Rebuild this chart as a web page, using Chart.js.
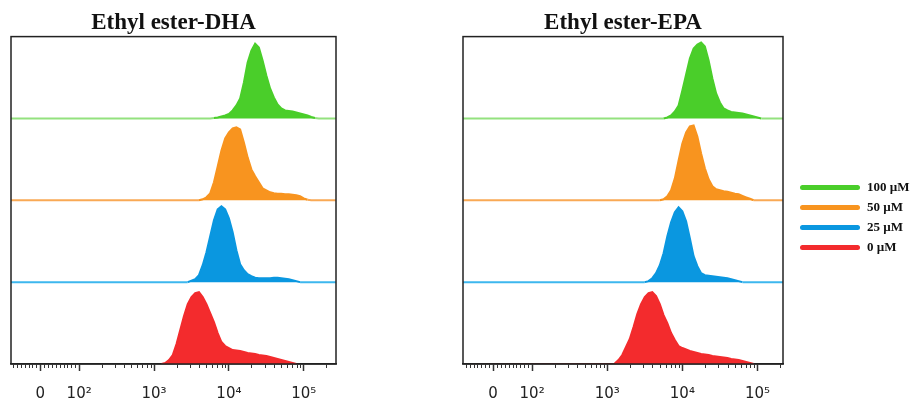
<!DOCTYPE html>
<html>
<head>
<meta charset="utf-8">
<script src="https://cdn.jsdelivr.net/npm/chart.js@4.4.1/dist/chart.umd.min.js"></script>
<style>
  html, body { margin: 0; padding: 0; background: #fff; }
  body { width: 911px; height: 403px; position: relative; overflow: hidden; }
  .panel { position: absolute; top: 0; height: 403px; }
  #legend { position: absolute; left: 800px; top: 177px; font: bold 13px "Liberation Serif", serif; color: #111; z-index: 2; }
  .item { display: flex; align-items: center; height: 20px; }
  .swatch { width: 60px; height: 5px; border-radius: 3px; margin-right: 7px; }
</style>
</head>
<body>
<div class="panel" style="left:0;width:344px"><canvas id="dha"></canvas></div>
<div class="panel" style="left:440px;width:366px"><canvas id="epa"></canvas></div>
<div id="legend"></div>
<script>
// fluorescence channel, log10 units
const logIntensity = [3.10, 3.15, 3.20, 3.25, 3.30, 3.35, 3.40, 3.45, 3.50, 3.55, 3.60, 3.65, 3.70, 3.75, 3.80,
  3.85, 3.90, 3.95, 4.00, 4.05, 4.10, 4.15, 4.20, 4.25, 4.30, 4.35, 4.40, 4.45, 4.50, 4.55, 4.60, 4.65,
  4.70, 4.75, 4.80, 4.85, 4.90, 4.95, 5.00, 5.05, 5.10, 5.15, 5.20];

const treatments = ['0 µM', '25 µM', '50 µM', '100 µM'];

// events per channel (bottom to top)
const dha0 = [0, 1, 4, 9, 20, 34, 48, 60, 67, 71, 72, 67, 60, 51, 42, 31, 22, 18, 16, 14, 13.5, 13, 12, 11,
  10.5, 10, 9, 8.5, 8, 7, 6, 5, 4, 3, 2, 1, 0, 0, 0, 0, 0, 0, 0];
const dha25 = [0, 0, 0, 0, 0, 0, 0, 0, 1.5, 3, 7, 17, 30, 46, 62, 73, 76, 73, 64, 50, 32, 18, 12, 8, 6, 4.5,
  4, 4, 4, 4, 4.5, 4.5, 4, 3.5, 3, 2, 1, 0, 0, 0, 0, 0, 0];
const dha50 = [0, 0, 0, 0, 0, 0, 0, 0, 0, 0, 0, 1, 3, 7, 18, 34, 50, 62, 68, 72, 73, 71, 58, 43, 31, 24, 18,
  12, 10, 8, 7, 6.5, 6.5, 6, 6, 5.5, 5, 4, 2, 0.5, 0, 0, 0];
const dha100 = [0, 0, 0, 0, 0, 0, 0, 0, 0, 0, 0, 0, 0, 0, 0.5, 1, 2, 3, 4.5, 8, 13, 20, 36, 56, 68, 75, 71,
  58, 43, 30, 21, 14, 10, 8, 7.5, 7, 6, 5, 4, 3, 1.5, 0.5, 0];

const epa0 = [0.5, 4, 9, 17, 25, 37, 50, 60, 67, 71, 72, 68, 60, 49, 41, 31, 24, 18, 16, 14.5, 13, 12, 11, 10,
  9.5, 9, 8, 7.5, 7, 6.5, 6, 5, 4.5, 4, 3, 2, 1, 0, 0, 0, 0, 0, 0];
const epa25 = [0, 0, 0, 0, 0, 0, 0, 0, 0, 1, 4, 9, 17, 29, 46, 60, 70, 75, 71, 61, 44, 26, 16, 9, 7, 6.5, 6,
  5.5, 5, 4.5, 4, 3, 2, 1, 0, 0, 0, 0, 0, 0, 0, 0, 0];
const epa50 = [0, 0, 0, 0, 0, 0, 0, 0, 0, 0, 0, 0, 0, 1, 4, 10, 22, 40, 57, 68, 74, 75, 64, 47, 32, 21, 14,
  11, 10, 9, 8.5, 7.5, 6.5, 6, 4.5, 3, 1.5, 0, 0, 0, 0, 0, 0];
const epa100 = [0, 0, 0, 0, 0, 0, 0, 0, 0, 0, 0, 0, 0, 0, 1, 3, 7, 13, 28, 44, 60, 70, 74, 76, 72, 58, 40, 25,
  16, 10, 8, 6.5, 6, 5.5, 5, 4, 3, 2, 1, 0, 0, 0, 0];

const tickValues = [1.48, 2, 3, 4, 5];
const tickLabels = ['0', '10²', '10³', '10⁴', '10⁵'];

const BAND = 82;
const fillColors = ['#f32b2d', '#0a97e0', '#f8941f', '#4ace2a'];
// bottom baseline sits on the axis, so no line for it
const lineColors = ['rgba(0,0,0,0)', '#3db7ee', '#f9a955', '#93e27f'];
const zeroPos = tickValues[0];

const frame = {
  id: 'frame',
  afterDraw(chart) {
    const a = chart.chartArea, ctx = chart.ctx;
    ctx.save();
    ctx.strokeStyle = '#222';
    ctx.lineWidth = 1.5;
    ctx.strokeRect(a.left, a.top, a.right - a.left, a.bottom - a.top);
    ctx.restore();
  }
};

const minorTicks = {
  id: 'minorTicks',
  afterDraw(chart) {
    const sx = chart.scales.x, y0 = chart.chartArea.bottom, ctx = chart.ctx;
    const pos = [];
    for (let d = 2; d <= 5; d++) for (let k = 2; k <= 9; k++) pos.push(d + Math.log10(k));
    for (let k = 1; k <= 9; k++) {
      pos.push(zeroPos + k * (2 - zeroPos) / 10);
      pos.push(zeroPos - k * (2 - zeroPos) / 10);
    }
    ctx.save();
    ctx.strokeStyle = '#333';
    ctx.lineWidth = 1;
    pos.forEach(v => {
      if (v < sx.min || v > sx.max) return;
      const x = Math.round(sx.getPixelForValue(v)) + 0.5;
      ctx.beginPath();
      ctx.moveTo(x, y0);
      ctx.lineTo(x, y0 + 4);
      ctx.stroke();
    });
    ctx.restore();
  }
};

function makeChart(id, title, series, xMin, xMax, padL, padR) {
  const datasets = series.map((counts, i) => {
    const base = i * BAND;
    const pts = [{ x: xMin, y: base }];
    logIntensity.forEach((v, j) => pts.push({ x: v, y: base + counts[j] }));
    pts.push({ x: xMax, y: base });
    return {
      label: treatments[i],
      data: pts,
      fill: { value: base },
      backgroundColor: fillColors[i],
      borderColor: fillColors[i],
      borderWidth: 2,
      pointRadius: 0,
      tension: 0,
      segment: {
        borderColor: c => (c.p0.parsed.y - base < 1 && c.p1.parsed.y - base < 1) ? lineColors[i] : fillColors[i]
      }
    };
  });

  return new Chart(document.getElementById(id), {
    type: 'line',
    data: { datasets },
    options: {
      responsive: true,
      maintainAspectRatio: false,
      animation: false,
      layout: { padding: { left: padL, right: padR, top: 0, bottom: 0 } },
      plugins: {
        legend: { display: false },
        tooltip: { enabled: false },
        title: {
          display: true,
          text: title,
          color: '#111',
          font: { family: '"Liberation Serif", serif', size: 23, weight: 'bold' },
          padding: { top: 9, bottom: 0 }
        }
      },
      scales: {
        x: {
          type: 'linear',
          min: xMin,
          max: xMax,
          afterBuildTicks: s => { s.ticks = tickValues.map(v => ({ value: v })); },
          afterFit: s => { s.height = 39; },
          ticks: {
            autoSkip: false,
            maxRotation: 0,
            padding: 14,
            color: '#222',
            font: { family: '"DejaVu Sans", sans-serif', size: 15 },
            callback: (v, idx) => tickLabels[idx]
          },
          grid: { drawOnChartArea: false, drawTicks: true, tickLength: 7, tickColor: '#333', tickWidth: 1.5 },
          border: { display: true, color: '#222', width: 1.5 }
        },
        y: { display: false, min: 0, max: 4 * BAND }
      }
    },
    plugins: [frame, minorTicks]
  });
}

makeChart('dha', 'Ethyl ester-DHA', [dha0, dha25, dha50, dha100], 1.09, 5.43, 11, 8);
makeChart('epa', 'Ethyl ester-EPA', [epa0, epa25, epa50, epa100], 1.08, 5.34, 23, 23);

const legend = document.getElementById('legend');
for (let i = treatments.length - 1; i >= 0; i--) {
  const row = document.createElement('div');
  row.className = 'item';
  row.innerHTML = '<span class="swatch" style="background:' + fillColors[i] + '"></span><span>' + treatments[i] + '</span>';
  legend.appendChild(row);
}
</script>
</body>
</html>
